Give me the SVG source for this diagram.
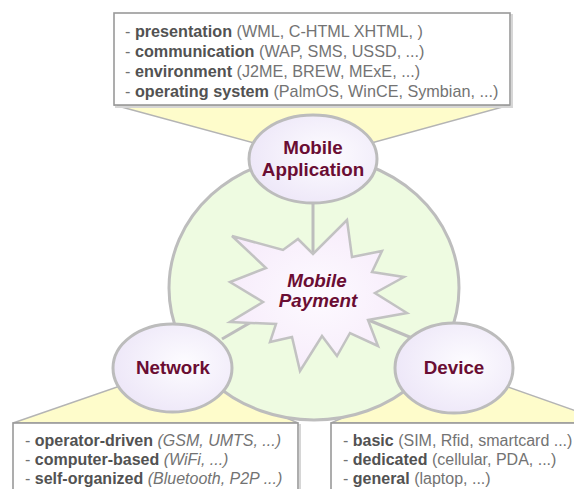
<svg xmlns="http://www.w3.org/2000/svg" width="574" height="489" viewBox="0 0 574 489">
<defs>
<radialGradient id="eg" cx="0.6" cy="0.45" r="0.7">
<stop offset="0" stop-color="#fdfcff"/>
<stop offset="1" stop-color="#ebe4f7"/>
</radialGradient>
<radialGradient id="sg" cx="0.5" cy="0.5" r="0.6">
<stop offset="0" stop-color="#fdfaff"/>
<stop offset="1" stop-color="#f6eafa"/>
</radialGradient>
<style>
.callout{fill:#fefccb;stroke:#b4b4b4;stroke-width:1.5}
.box{fill:#ffffff;stroke:#999999;stroke-width:1.6}
.shadow{fill:none;stroke:#d6d6d6;stroke-width:2}
.node{fill:url(#eg);stroke:#bcbcbc;stroke-width:3}
.lbl{font-family:"Liberation Sans",Arial,sans-serif;font-weight:bold;font-size:18.8px;fill:#6a0d33;text-anchor:middle}
.txt{font-family:"Liberation Sans",Arial,sans-serif;font-size:16.2px;fill:#737373}
.txt2{font-family:"Liberation Sans",Arial,sans-serif;font-size:16px;fill:#737373}
.b{font-weight:bold;fill:#525252}
.i{font-style:italic}
.conn{stroke:#bdbdbd;stroke-width:3;fill:none}
</style>
</defs>
<rect width="574" height="489" fill="#ffffff"/>

<g id="callouts">
<polygon class="callout" points="114,105 510,105 313,159"/>
<polygon class="callout" points="13,423 298,423 172,368"/>
<polygon class="callout" points="331,423 610,423 454,368"/>
</g>

<g id="circle">
<ellipse cx="314" cy="288" rx="145" ry="132" fill="#eefbe1" stroke="#bdbdbd" stroke-width="3"/>
</g>

<g id="connectors">
<line class="conn" x1="313" y1="203" x2="313" y2="256"/>
<line class="conn" x1="222" y1="339" x2="272" y2="310"/>
<line class="conn" x1="366" y1="319" x2="412" y2="338"/>
</g>

<g id="mobile-payment">
<polygon points="347,220 352,257 382,251 372,272 404,277 375,293 407,313 368,320 378,346 350,333 337,356 322,336 300,371 292,337 270,342 276,324 230,322 263,302 230,282 266,268 232,236 283,250 298,239 313,254" fill="url(#sg)" stroke="#c2c2c2" stroke-width="2.5" stroke-linejoin="miter"/>
<text class="lbl" font-style="italic" x="317" y="287" font-size="19.5">Mobile</text>
<text class="lbl" font-style="italic" x="318" y="307" font-size="19.5">Payment</text>
</g>

<g id="mobile-application">
<ellipse class="node" cx="313" cy="159" rx="64" ry="44"/>
<text class="lbl" x="313" y="154">Mobile</text>
<text class="lbl" x="313" y="176">Application</text>
</g>

<g id="network">
<ellipse class="node" cx="172.5" cy="368" rx="59.5" ry="44"/>
<text class="lbl" x="173" y="374">Network</text>
</g>

<g id="device">
<ellipse class="node" cx="454" cy="368" rx="59" ry="45"/>
<text class="lbl" x="454" y="374">Device</text>
</g>

<g id="app-box">
<rect class="shadow" x="116" y="15" width="396" height="92"/>
<rect class="box" x="114" y="13" width="396" height="92"/>
<text class="txt" x="125" y="37">- <tspan class="b">presentation</tspan> (WML, C-HTML XHTML, )</text>
<text class="txt" x="125" y="57">- <tspan class="b">communication</tspan> (WAP, SMS, USSD, ...)</text>
<text class="txt" x="125" y="77">- <tspan class="b">environment</tspan> (J2ME, BREW, MExE, ...)</text>
<text class="txt" x="125" y="97">- <tspan class="b">operating system</tspan> (PalmOS, WinCE, Symbian, ...)</text>
</g>

<g id="network-box">
<rect class="shadow" x="15" y="425" width="285" height="80"/>
<rect class="box" x="13" y="423" width="285" height="80"/>
<text class="txt2" x="25" y="446">- <tspan class="b">operator-driven</tspan> <tspan class="i">(GSM, UMTS, ...)</tspan></text>
<text class="txt2" x="25" y="465">- <tspan class="b">computer-based</tspan> <tspan class="i">(WiFi, ...)</tspan></text>
<text class="txt2" x="25" y="484">- <tspan class="b">self-organized</tspan> <tspan class="i">(Bluetooth, P2P ...)</tspan></text>
</g>

<g id="device-box">
<rect class="shadow" x="333" y="425" width="285" height="80"/>
<rect class="box" x="331" y="423" width="285" height="80"/>
<text class="txt2" x="343" y="446">- <tspan class="b">basic</tspan> (SIM, Rfid, smartcard ...)</text>
<text class="txt2" x="343" y="465">- <tspan class="b">dedicated</tspan> (cellular, PDA, ...)</text>
<text class="txt2" x="343" y="484">- <tspan class="b">general</tspan> (laptop, ...)</text>
</g>
</svg>
